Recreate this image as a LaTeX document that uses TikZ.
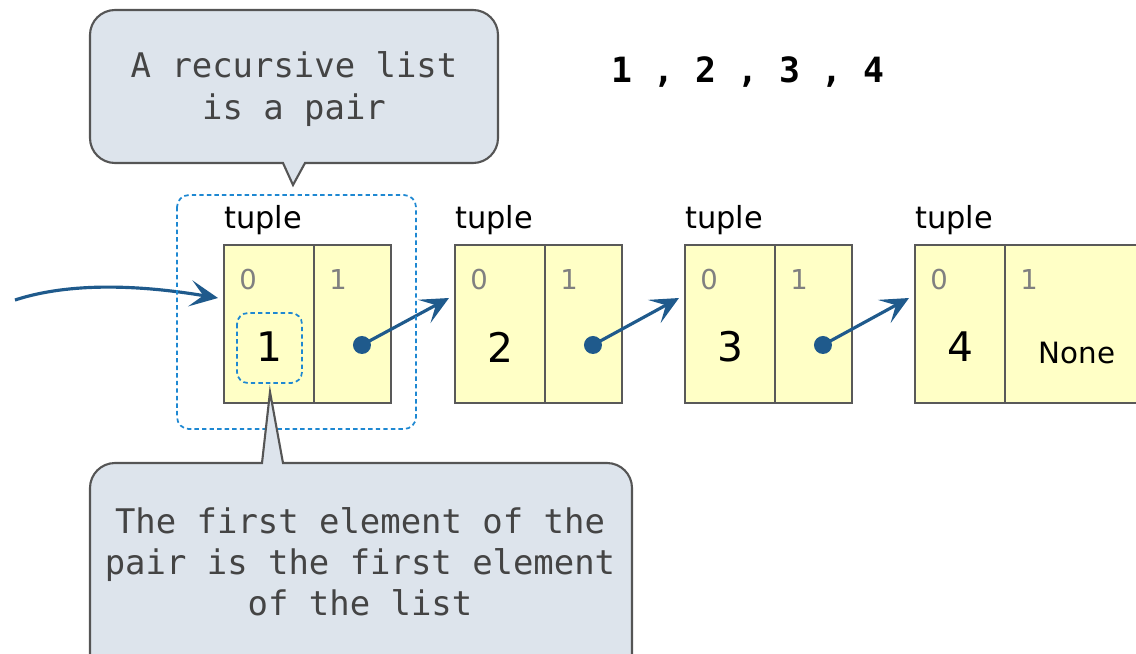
\documentclass[tikz,border=0pt]{standalone}
\usepackage{fontspec}
\setmainfont{DejaVu Sans}
\setmonofont{DejaVu Sans Mono}
\usetikzlibrary{positioning,calc,arrows.meta}

\definecolor{cellfill}{HTML}{FFFFC6}
\definecolor{cellline}{HTML}{595959}
\definecolor{callfill}{HTML}{DDE4EC}
\definecolor{callline}{HTML}{555555}
\definecolor{calltext}{HTML}{444444}
\definecolor{linkblue}{HTML}{1F5A8C}
\definecolor{focusblue}{HTML}{1E88D2}
\definecolor{indexgray}{HTML}{808080}

\tikzset{
  cell/.style={draw=cellline, fill=cellfill, line width=1.3pt, minimum height=3.16cm,
    inner sep=0pt, outer sep=0pt, anchor=north west},
  typelabel/.style={anchor=base west, inner sep=0pt, font=\fontsize{17.3}{20}\selectfont},
  indexlabel/.style={inner sep=0pt, text=indexgray, font=\fontsize{15.6}{18}\selectfont},
  valuelabel/.style={inner sep=0pt, font=\fontsize{23.2}{26}\selectfont},
  dot/.style={circle, fill=linkblue, inner sep=0pt, minimum size=0.36cm},
  link/.style={draw=linkblue, line width=1.8pt},
  focus/.style={draw=focusblue, line width=1pt, dash pattern=on 2.5pt off 1.8pt},
  callout/.style={draw=callline, fill=callfill, line width=1.2pt},
  calltext/.style={align=center, text=calltext, inner sep=0pt,
    font=\ttfamily\fontsize{19.3}{23.4}\selectfont},
  seqtext/.style={inner sep=0pt, font=\ttfamily\bfseries\fontsize{19.8}{24}\selectfont}
}

\begin{document}
\begin{tikzpicture}[x=0.02cm, y=-0.02cm,
    >={Stealth[length=16pt, width=15pt, inset=7.5pt]}]
  \useasboundingbox (0,0) rectangle (1136,653);

  % the list 1 , 2 , 3 , 4
  \node[seqtext] (seq) at (748,72) {1 , 2 , 3 , 4};

  % four tuples
  \foreach \xx/\v/\w [count=\i] in {224/1/1.54, 455/2/1.54, 685/3/1.54, 915/4/3} {
    \node[cell, minimum width=1.8cm] (first\i) at (\xx,245) {};
    \node[cell, minimum width=\w cm] (rest\i) at (first\i.north east) {};
    \node[typelabel] (type\i) at ($(first\i.north west)+(0,-17)$) {tuple};
    \node[indexlabel] (idxa\i) at ($(first\i.north west)+(24,35)$) {0};
    \node[indexlabel] (idxb\i) at ($(rest\i.north west)+(24,35)$) {1};
    \node[valuelabel] (val\i) at ($(first\i.north)+(0,102)$) {\v};
    \coordinate (in\i) at ($(first\i.north west)+(-6,53)$);
  }
  \node[indexlabel, text=black, font=\fontsize{16.7}{19}\selectfont] (none)
    at ($(rest4.north west)+(72,108)$) {None};

  % links between tuples
  \foreach \i [evaluate=\i as \j using int(\i+1)] in {1,2,3} {
    \node[dot] (dot\i) at ($(rest\i.center)+(9.5,21)$) {};
    \draw[link,->] (dot\i.center) -- (in\j);
  }

  % incoming reference
  \coordinate (from) at (15,300);
  \draw[link,->] (from) .. controls (70,282) and (140,285) .. (in1);

  % dotted marks
  \draw[focus, rounded corners=0.24cm] (177,195) rectangle (416,429);
  \draw[focus, rounded corners=0.22cm] (237,313) rectangle (302,383);

  % callout on top
  \draw[callout] (293,185) -- (305,163) [rounded corners=0.5cm] -- (498,163)
    -- (498,10) -- (90,10) -- (90,163) [sharp corners] -- (283,163) -- cycle;
  \node[calltext] (pairnote) at (294,89) {A recursive list\\is a pair};

  % callout below
  \draw[callout] (270,392) -- (283,463) [rounded corners=0.5cm] -- (632,463)
    -- (632,700) -- (90,700) -- (90,463) [sharp corners] -- (262,463) -- cycle;
  \node[calltext] (firstnote) at (360,562)
    {The first element of the\\pair is the first element\\of the list};
\end{tikzpicture}
\end{document}
